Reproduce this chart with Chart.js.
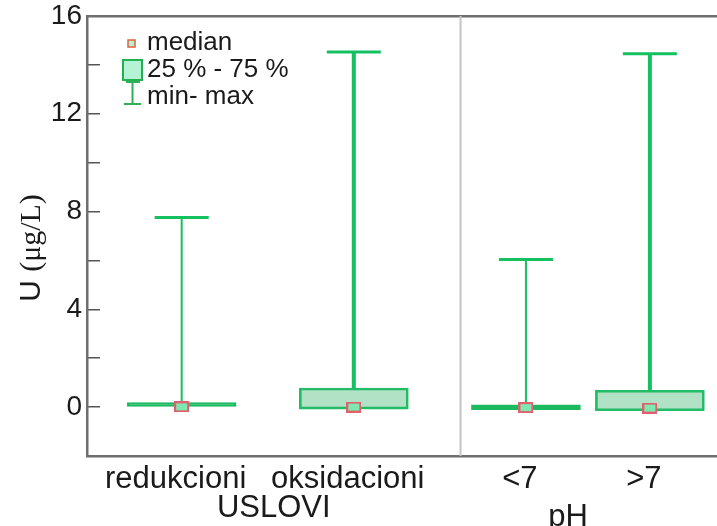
<!DOCTYPE html>
<html>
<head>
<meta charset="utf-8">
<script src="https://cdn.jsdelivr.net/npm/chart.js@4.4.1/dist/chart.umd.min.js"></script>
<style>
    html, body { margin: 0; padding: 0; background: #fff; }
    #wrap { width: 717px; height: 526px; }
</style>
</head>
<body>
<div id="wrap"><canvas id="myChart" width="717" height="526"></canvas></div>
<script>
var categories = ['redukcioni', 'oksidacioni', '<7', '>7'];
var xPos = [1, 2, 3, 3.72];
var minValues = [0.0, -0.08, -0.1, -0.15];
var q1Values = [0.0, -0.08, -0.1, -0.15];
var medianValues = [0.01, 0.0, -0.02, -0.04];
var q3Values = [0.19, 0.78, 0.09, 0.69];
var maxValues = [7.76, 14.53, 6.04, 14.46];
var whiskerWidths = [2, 4, 2, 4];
var yLabelValues = [0, 4, 8, 12, 16];
var groupLabels = ['USLOVI', 'pH'];
var groupPos = [1.535, 3.245];
var separatorPos = 2.62;
var legendLabels = ['median', '25 % - 75 %', 'min- max'];

var green = '#14c060';
var sans = "'Liberation Sans', Arial, sans-serif";
var capHalf = 0.157;

var isCollapsed = (i) => q3Values[i] - q1Values[i] < 0.3;

var makeMedianIcon = (w, h) => {
    let c = document.createElement('canvas');
    c.width = w;
    c.height = h;
    let g = c.getContext('2d');
    g.fillStyle = '#7fe8b0';
    g.fillRect(1, 1, w - 2, h - 2);
    g.strokeStyle = '#e0606e';
    g.lineWidth = 2;
    g.strokeRect(1, 1, w - 2, h - 2);
    return c;
}

var buildWhiskers = () => {
    let sets = [];
    for (let i = 0; i < xPos.length; i++) {
        sets.push({
            type: 'line',
            data: [
                {x: xPos[i], y: minValues[i]}, {x: xPos[i], y: q1Values[i]},
                {x: xPos[i], y: null},
                {x: xPos[i], y: q3Values[i]}, {x: xPos[i], y: maxValues[i]}
            ],
            borderColor: green,
            borderWidth: whiskerWidths[i],
            pointRadius: 0,
            spanGaps: false,
            order: 2
        });
    }
    return sets;
}

var buildCaps = () => {
    let pts = [];
    for (let i = 0; i < xPos.length; i++) {
        pts.push({x: xPos[i] - capHalf, y: maxValues[i]});
        pts.push({x: xPos[i] + capHalf, y: maxValues[i]});
        pts.push({x: xPos[i] + capHalf, y: null});
    }
    return pts;
}

var noPad = (s) => {
    s.paddingTop = 0;
    s.paddingBottom = 0;
    s.paddingLeft = 0;
    s.paddingRight = 0;
}

var extrasPlugin = {
    id: 'extras',
    afterDraw: (chart) => {
        const ctx = chart.ctx;
        const xs = chart.scales.x;
        ctx.save();
        ctx.fillStyle = '#1a1a1a';
        ctx.textBaseline = 'alphabetic';
        ctx.textAlign = 'center';
        // group labels under the categories
        ctx.font = '31px ' + sans;
        ctx.fillText(groupLabels[0], xs.getPixelForValue(groupPos[0]), 517);
        ctx.fillText(groupLabels[1], xs.getPixelForValue(groupPos[1]), 526);

        // y title, mixed fonts
        ctx.save();
        ctx.translate(40, 248);
        ctx.rotate(-Math.PI / 2);
        ctx.textAlign = 'left';
        ctx.font = '30px ' + sans;
        const partA = 'U ';
        const wA = ctx.measureText(partA).width;
        ctx.font = "30px 'Liberation Serif', 'Times New Roman', serif";
        const partB = '(\u03bcg/L)';
        const wB = ctx.measureText(partB).width;
        let start = -(wA + wB) / 2;
        ctx.font = '30px ' + sans;
        ctx.fillText(partA, start, 0);
        ctx.font = "30px 'Liberation Serif', 'Times New Roman', serif";
        ctx.fillText(partB, start + wA, 0);
        ctx.restore();

        // legend
        const rowY = [43, 70, 97];
        ctx.textAlign = 'left';
        ctx.textBaseline = 'middle';
        ctx.font = '26px ' + sans;
        for (let i = 0; i < legendLabels.length; i++) {
            ctx.fillText(legendLabels[i], 147, rowY[i]);
        }
        ctx.lineWidth = 1.5;
        ctx.fillStyle = '#b8f2d6';
        ctx.strokeStyle = '#e0603c';
        ctx.fillRect(128, 40, 7, 7);
        ctx.strokeRect(128, 40, 7, 7);
        ctx.lineWidth = 2;
        ctx.fillStyle = '#b4f4d4';
        ctx.strokeStyle = '#22b050';
        ctx.fillRect(123, 60, 19, 20);
        ctx.strokeRect(123, 60, 19, 20);
        ctx.strokeStyle = '#30b058';
        ctx.beginPath();
        ctx.moveTo(132.5, 82); ctx.lineTo(132.5, 104);
        ctx.moveTo(126, 82); ctx.lineTo(140, 82);
        ctx.moveTo(124, 104); ctx.lineTo(141, 104);
        ctx.stroke();
        ctx.restore();
    }
};

window.onload = () => {
    const ctx = document.getElementById('myChart').getContext('2d');

    const datasets = [{
        type: 'bar',
        data: xPos.map((x, i) => ({x: x, y: [q1Values[i], q3Values[i]]})),
        // collapsed boxes come out as one solid line
        backgroundColor: (c) => isCollapsed(c.dataIndex) ? '#1cba60' : 'rgba(40, 175, 95, 0.36)',
        borderColor: (c) => isCollapsed(c.dataIndex) ? '#1cba60' : '#22bd66',
        borderWidth: 2,
        borderSkipped: false,
        barThickness: 109,
        grouped: false,
        order: 3
    }].concat(buildWhiskers()).concat([{
        type: 'line',
        data: buildCaps(),
        borderColor: green,
        borderWidth: 3,
        pointRadius: 0,
        spanGaps: false,
        order: 2
    }, {
        type: 'scatter',
        data: xPos.map((x, i) => ({x: x, y: medianValues[i]})),
        pointStyle: makeMedianIcon(15, 11),
        order: 0
    }, {
        type: 'line',
        data: [{x: separatorPos, y: -2}, {x: separatorPos, y: 16}],
        borderColor: '#c4c4c4',
        borderWidth: 2,
        pointRadius: 0,
        order: 5
    }]);

    new Chart(ctx, {
        type: 'bar',
        data: { datasets: datasets },
        plugins: [extrasPlugin],
        options: {
            responsive: false,
            animation: false,
            devicePixelRatio: 1,
            layout: { padding: 0, autoPadding: false },
            plugins: {
                legend: { display: false },
                tooltip: { enabled: false }
            },
            scales: {
                x: {
                    type: 'linear',
                    position: 'bottom',
                    min: 0.45,
                    max: 4.11,
                    offset: false,
                    afterBuildTicks: (s) => { s.ticks = xPos.map(v => ({value: v})); },
                    afterFit: (s) => { s.height = 70; noPad(s); },
                    ticks: {
                        autoSkip: false,
                        maxRotation: 0,
                        padding: 5,
                        labelOffset: -6,
                        color: '#1a1a1a',
                        font: { family: sans, size: 31 },
                        callback: (v, i) => categories[i]
                    },
                    grid: { display: false, drawTicks: false },
                    border: { color: '#6e6e6e', width: 2.5 }
                },
                xTop: {
                    type: 'linear',
                    position: 'top',
                    min: 0.45,
                    max: 4.11,
                    afterFit: (s) => { s.height = 16; noPad(s); },
                    ticks: { display: false },
                    grid: { display: false, drawTicks: false },
                    border: { color: '#6e6e6e', width: 2.5 }
                },
                y: {
                    min: -2,
                    max: 16,
                    afterBuildTicks: (s) => {
                        let t = [];
                        for (let v = -2; v <= 16; v += 2) t.push({value: v});
                        s.ticks = t;
                    },
                    afterFit: (s) => { s.width = 87; noPad(s); },
                    ticks: {
                        padding: 18,
                        color: '#1a1a1a',
                        font: { family: sans, size: 28 },
                        callback: (v) => yLabelValues.includes(v) ? String(v) : ''
                    },
                    grid: {
                        drawOnChartArea: false,
                        tickLength: -13,
                        color: '#555',
                        lineWidth: 1.5
                    },
                    border: { color: '#6e6e6e', width: 2.5 }
                }
            }
        }
    });
}
</script>
</body>
</html>
